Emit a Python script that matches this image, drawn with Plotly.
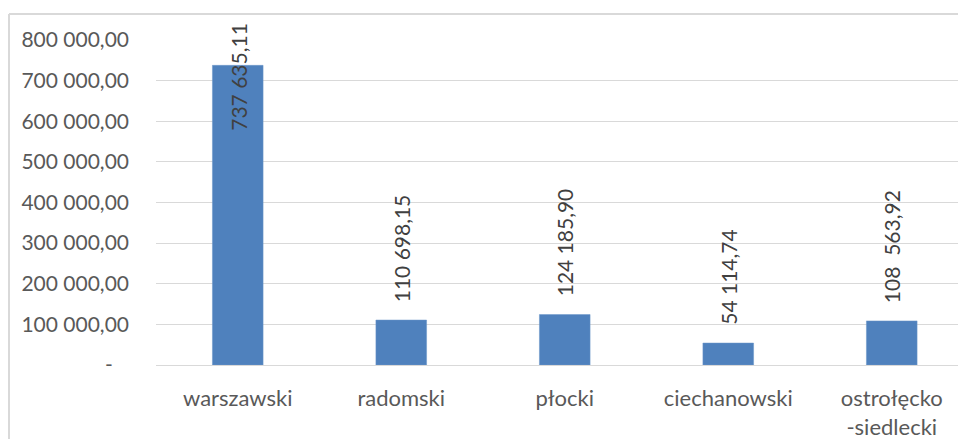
import plotly.graph_objects as go

categories = ["warszawski", "radomski", "płocki", "ciechanowski", "ostrołęcko<br>-siedlecki"]
values = [737635.11, 110698.15, 124185.90, 54114.74, 108563.92]
value_labels = ["737 635,11", "110 698,15", "124 185,90", "54 114,74", "108\u00a0\u00a0563,92"]
y_tickvals = [0, 100000, 200000, 300000, 400000, 500000, 600000, 700000, 800000]
y_ticktext = ["-\u00a0\u00a0\u00a0", "100 000,00", "200 000,00", "300 000,00", "400 000,00",
              "500 000,00", "600 000,00", "700 000,00", "800 000,00"]

W, H = 958, 439
ML, MR, MT, MB = 156, 0, 40, 74
FONT = "Lato"
plot_w = W - ML - MR
plot_h = H - MT - MB

fig = go.Figure()
fig.add_trace(go.Bar(
    x=categories, y=values,
    marker=dict(color="#4f81bd", line=dict(color="#6d96c9", width=0.5)),
    width=0.31,
    hoverinfo="skip",
))

annotations = []
for c, v, t in zip(categories, values, value_labels):
    if v > 600000:
        annotations.append(dict(x=c, y=1, xref="x", yref="paper", text=t, textangle=-90,
                                showarrow=False, yanchor="top", yshift=19,
                                font=dict(family=FONT, size=21, color="#404040")))
    else:
        annotations.append(dict(x=c, y=v, xref="x", yref="y", text=t, textangle=-90,
                                showarrow=False, yanchor="bottom", yshift=16,
                                font=dict(family=FONT, size=21, color="#404040")))

# chart border (light gray) at left and top
bx = (9 - ML) / plot_w
by_top = 1 + (MT - 14) / plot_h
by_bot = -(MB + 5) / plot_h
shapes = [
    dict(type="line", xref="paper", yref="paper", x0=bx, x1=1.2, y0=by_top, y1=by_top,
         line=dict(color="#d9d9d9", width=2)),
    dict(type="line", xref="paper", yref="paper", x0=bx, x1=bx, y0=by_top, y1=by_bot,
         line=dict(color="#d9d9d9", width=2)),
]

fig.update_layout(
    width=W, height=H,
    margin=dict(l=ML, r=MR, t=MT, b=MB),
    paper_bgcolor="white", plot_bgcolor="white",
    showlegend=False,
    font=dict(family=FONT, size=21, color="#595959"),
    annotations=annotations,
    shapes=shapes,
    bargap=0.69,
)
fig.update_xaxes(
    range=[-0.5, -0.5 + plot_w / 163.5],
    showgrid=False, showline=True, linecolor="#d9d9d9", linewidth=1,
    ticks="", ticklabelstandoff=14,
    tickfont=dict(family=FONT, size=22, color="#595959"),
    fixedrange=True,
)
fig.update_yaxes(
    range=[0, 800000],
    tickvals=y_tickvals, ticktext=y_ticktext,
    showgrid=True, gridcolor="#d9d9d9", gridwidth=1,
    zeroline=True, zerolinecolor="#d9d9d9", zerolinewidth=1,
    showline=False, ticks="", ticklabelstandoff=26,
    tickfont=dict(family=FONT, size=21, color="#595959"),
    fixedrange=True,
)

fig.write_html(
    "out.html",
    config={"displayModeBar": False},
    post_script="document.body.style.margin='0';document.body.style.overflow='hidden';",
)
